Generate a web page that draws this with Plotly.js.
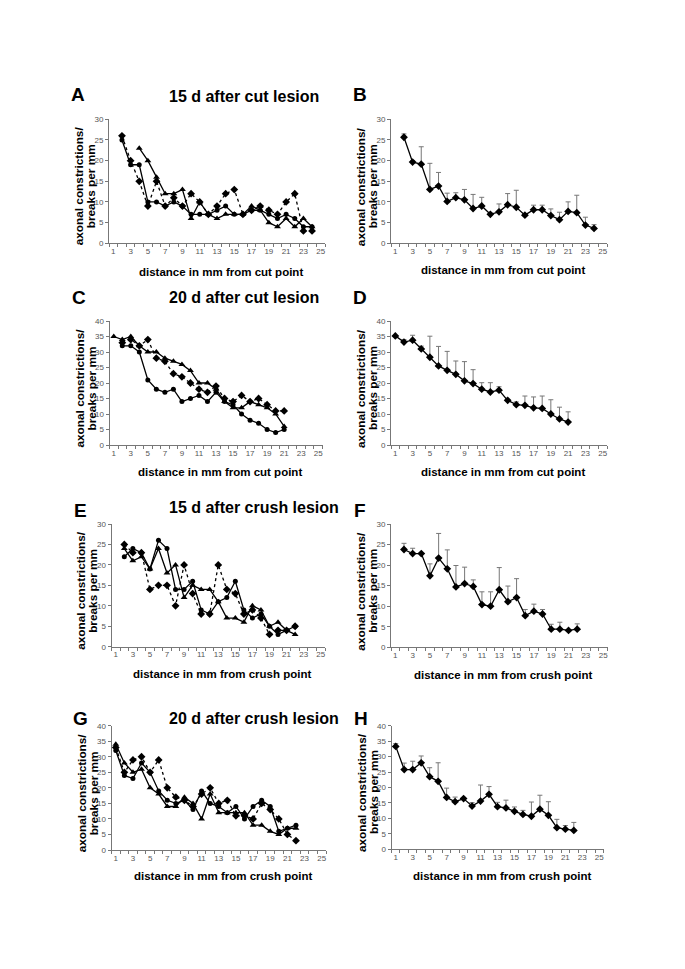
<!DOCTYPE html>
<html>
<head>
<meta charset="utf-8">
<script src="https://cdn.plot.ly/plotly-3.0.1.min.js"></script>
<style>html,body{margin:0;padding:0;background:#fff;}#chart{width:685px;height:969px;}</style>
</head>
<body>
<div id="chart"></div>
<script>
// ---------- data ----------
const xTickVals = [1,3,5,7,9,11,13,15,17,19,21,23,25];

// A: 15 d after cut lesion (individual animals)
const distA = [2,3,4,5,6,7,8,9,10,11,12,13,14,15,16,17,18,19,20,21,22,23,24];
const distATri = [4,5,6,7,8,9,10,11,12,13,14,15,16,17,18,19,20,21,22,23,24];
const aCircle = [25,19,19,10,10,9,10,9,7,7,7,8,9,7,7,8,8,7,6,7,6,4,4];
const aTriangle = [23,20,16,12,12,13,6,10,7,6,7,7,7,9,8,5,4,6,4,6,4];
const aDiamond = [26,20,15,9,15,9,11,9,12,10,7,9,12,13,7,8,9,8,7,10,12,3,3];
// B: mean + SD
const bMean = [25.6,19.6,19.1,13,13.8,10.1,11,10.5,8.4,9,7,7.6,9.3,8.7,6.8,8.1,8.1,6.7,5.7,7.7,7.4,4.4,3.6];
const bErr = [0.8,0.3,4.2,6.3,3.3,2,1.2,2.5,3.4,2.1,0.3,1.9,2.7,4.1,0.3,1.1,1.1,1.6,1.8,2.3,4.2,1.9,0.9];

// C: 20 d after cut lesion
const distC = [1,2,3,4,5,6,7,8,9,10,11,12,13,14,15,16,17,18,19,20,21];
const distC2 = [2,3,4,5,6,7,8,9,10,11,12,13,14,15,16,17,18,19,20,21];
const cTriangle = [35,34,35,32,30,30,28,27,26,24,20,20,18,14,12,12,14,13,12,10,6];
const cCircle = [32,32,30,21,18,17,18,14,15,16,14,17,14,13,10,8,7,5,4,5];
const cDiamond = [33,34,32,34,28,27,23,22,20,18,17,19,15,14,16,14,15,13,11,11];
// D: mean + SD
const dMean = [35.2,33.2,33.8,31,28.3,25.5,24.1,22.8,20.7,19.8,18,17.1,17.7,14.4,13,12.8,12,11.8,10,8.4,7.4];
const dErr = [0,0.8,1.6,0.9,6.8,6.3,6.1,4.3,6.2,4.5,2.1,3,1.1,0,0.9,3,3.5,4,4.6,3.8,3.3];

// E: 15 d after crush lesion
const distE = [2,3,4,5,6,7,8,9,10,11,12,13,14,15,16,17,18,19,20,21,22];
const eCircle = [22,24,23,19,26,24,14,14,16,9,8,11,12,16,9,7,8,5,3,4,5];
const eTriangle = [24,21,22,19,24,18,20,12,15,14,14,11,7,7,6,10,9,5,6,4,3];
const eDiamond = [25,23,23,14,15,15,10,20,13,8,8,20,14,13,8,9,7,3,4,4,5];
// F: mean + SD
const fMean = [23.8,22.8,22.8,17.4,21.7,19.1,14.7,15.5,14.8,10.4,10,14,11.1,12.1,7.7,8.8,8.1,4.4,4.4,4.1,4.4];
const fErr = [1.5,1.3,0,2.9,6,4.6,5.2,4,1.6,3.1,3.5,5.4,3.8,4.6,1.5,1.7,1.1,1.2,1.7,0,1.3];

// G: 20 d after crush lesion
const distG = [1,2,3,4,5,6,7,8,9,10,11,12,13,14,15,16,17,18,19,20,21,22];
const gCircle = [32,24,23,28,25,19,16,15,16,13,19,15,14,12,14,10,14,16,14,6,7,8];
const gTriangle = [34,28,25,26,20,18,14,14,17,15,10,18,12,12,12,12,8,8,6,5,7,7];
const gDiamond = [33,25,29,30,25,29,20,17,16,14,18,20,15,16,11,11,10,15,13,10,5,3];
// H: mean + SD
const hMean = [33.3,25.8,25.8,28,23.5,22,16.8,15.4,16.4,14,15.6,17.8,13.8,13.4,12.3,11.3,10.7,13,11,7,6.5,6.1];
const hErr = [0.9,2.1,2.7,2.2,2.9,6,3,1.5,0,1.1,5.2,2.5,1.4,2.5,1.4,1.3,4.6,4.5,4.4,2.7,1.2,2.6];

const titleTexts = ['15 d after cut lesion','20 d after cut lesion','15 d after crush lesion','20 d after crush lesion'];
const panelLetters = ['A','B','C','D','E','F','G','H'];
const yTitle1 = 'axonal constrictions/';
const yTitle2 = 'breaks per mm';
const xTitleCut = 'distance in mm from cut point';
const xTitleCrush = 'distance in mm from crush point';

// ---------- layout helpers ----------
const W = 685, H = 969;
const FONT = 'Liberation Sans, Arial, Helvetica, sans-serif';
function dxx(a,b){return [a/W, b/W];}
function dyy(top,bottom){return [1-bottom/H, 1-top/H];}

// plot-area pixel boxes: [left, right, top(ymax), bottom(0)], ymax
const boxes = [
  [109,325,119.3,243.3,30],
  [391,607,119,243.3,30],
  [109.5,322.5,321,445,40],
  [391,607,321,445,40],
  [111.5,325,524,646.7,30],
  [391,607.5,524,647.3,30],
  [111.5,326,725.7,850,40],
  [391.5,603.5,725.7,849.3,40]
];

const layout = {
  width: W, height: H,
  margin: {l:0,r:0,t:0,b:0},
  paper_bgcolor: '#ffffff',
  plot_bgcolor: 'rgba(0,0,0,0)',
  showlegend: false,
  font: {family: FONT, color: '#000'},
  annotations: []
};

boxes.forEach((b, i) => {
  const n = i === 0 ? '' : String(i+1);
  layout['xaxis'+n] = {
    domain: dxx(b[0], b[1]), anchor: 'y'+n,
    range: [0.5, 25.5], showline: true, linecolor: '#777', linewidth: 1,
    zeroline: false, showgrid: false,
    tickmode: 'array', tickvals: xTickVals, ticktext: xTickVals.map(String),
    ticks: '', tickfont: {size: 8, color: '#555', family: FONT},
    minor: {tickmode: 'linear', tick0: 0.5, dtick: 1, ticks: 'outside', ticklen: 3, tickcolor: '#777', tickwidth: 1, showgrid: false},
    fixedrange: true
  };
  layout['yaxis'+n] = {
    domain: dyy(b[2], b[3]), anchor: 'x'+n,
    range: [0, b[4]], dtick: 5, tick0: 0,
    showline: true, linecolor: '#777', linewidth: 1,
    zeroline: false, showgrid: false,
    ticks: 'outside', ticklen: 3, tickcolor: '#777',
    tickfont: {size: 8, color: '#555', family: FONT},
    fixedrange: true
  };
  // panel letter (sits above the first y-title line)
  const letterX = b[0] - 31;
  const letterY = [94,94,298,298,510,510,718,718][i];
  layout.annotations.push({
    text: '<b>'+panelLetters[i]+'</b>', xref: 'paper', yref: 'paper',
    x: letterX/W, y: 1-letterY/H, xanchor: 'center', yanchor: 'middle',
    showarrow: false, font: {size: 19, family: FONT, color: '#000'}
  });
  // y title (two lines)
  const yc = (b[2]+b[3])/2 + 5;
  const l1x = b[0] - 30, l2x = b[0] - 18;
  layout.annotations.push({
    text: '<b>'+yTitle1+'</b>', xref: 'paper', yref: 'paper',
    x: l1x/W, y: 1-yc/H, xanchor: 'center', yanchor: 'middle', textangle: -90,
    showarrow: false, font: {size: 11.8, family: FONT, color: '#000'}
  });
  layout.annotations.push({
    text: '<b>'+yTitle2+'</b>', xref: 'paper', yref: 'paper',
    x: l2x/W, y: 1-yc/H, xanchor: 'center', yanchor: 'middle', textangle: -90,
    showarrow: false, font: {size: 11.8, family: FONT, color: '#000'}
  });
  // x title
  const xt = i < 4 ? xTitleCut : xTitleCrush;
  const xtY = [272,270,472,472,674,675,876,876][i];
  layout.annotations.push({
    text: '<b>'+xt+'</b>', xref: 'paper', yref: 'paper',
    x: ((b[0]+b[1])/2 + 4)/W, y: 1-xtY/H, xanchor: 'center', yanchor: 'middle',
    showarrow: false, font: {size: 11.5, family: FONT, color: '#000'}
  });
});

// row titles
const titleY = [96, 297, 507, 718];
const titleX = [244, 244, 254, 254];
titleTexts.forEach((t, k) => {
  layout.annotations.push({
    text: '<b>'+t+'</b>', xref: 'paper', yref: 'paper',
    x: titleX[k]/W, y: 1-titleY[k]/H, xanchor: 'center', yanchor: 'middle',
    showarrow: false, font: {size: 16, family: FONT, color: '#000'}
  });
});

// ---------- traces ----------
function ax(i){ return i === 0 ? '' : String(i+1); }
function series(x, y, i, symbol, dashed){
  return {
    type: 'scatter', mode: 'lines+markers', x: x, y: y,
    xaxis: 'x'+ax(i), yaxis: 'y'+ax(i),
    line: {color: '#000', width: 1.3, dash: dashed ? 'dot' : 'solid'},
    marker: {symbol: symbol, size: symbol === 'circle' ? 5 : 6, color: '#000'},
    hoverinfo: 'skip'
  };
}
function meanSeries(x, y, err, i){
  return {
    type: 'scatter', mode: 'lines+markers', x: x, y: y,
    xaxis: 'x'+ax(i), yaxis: 'y'+ax(i),
    line: {color: '#000', width: 1.3},
    marker: {symbol: 'diamond', size: 6, color: '#000'},
    error_y: {type: 'data', symmetric: false, array: err, arrayminus: err.map(() => 0),
              color: '#777', thickness: 1, width: 2.5},
    hoverinfo: 'skip'
  };
}

const data = [
  series(distA, aDiamond, 0, 'diamond', true),
  series(distA, aCircle, 0, 'circle', false),
  series(distATri, aTriangle, 0, 'triangle-up', false),
  meanSeries(distA, bMean, bErr, 1),
  series(distC2, cDiamond, 2, 'diamond', true),
  series(distC2, cCircle, 2, 'circle', false),
  series(distC, cTriangle, 2, 'triangle-up', false),
  meanSeries(distC, dMean, dErr, 3),
  series(distE, eDiamond, 4, 'diamond', true),
  series(distE, eCircle, 4, 'circle', false),
  series(distE, eTriangle, 4, 'triangle-up', false),
  meanSeries(distE, fMean, fErr, 5),
  series(distG, gDiamond, 6, 'diamond', true),
  series(distG, gCircle, 6, 'circle', false),
  series(distG, gTriangle, 6, 'triangle-up', false),
  meanSeries(distG, hMean, hErr, 7)
];

Plotly.newPlot('chart', data, layout, {staticPlot: true, displayModeBar: false});
</script>
</body>
</html>
